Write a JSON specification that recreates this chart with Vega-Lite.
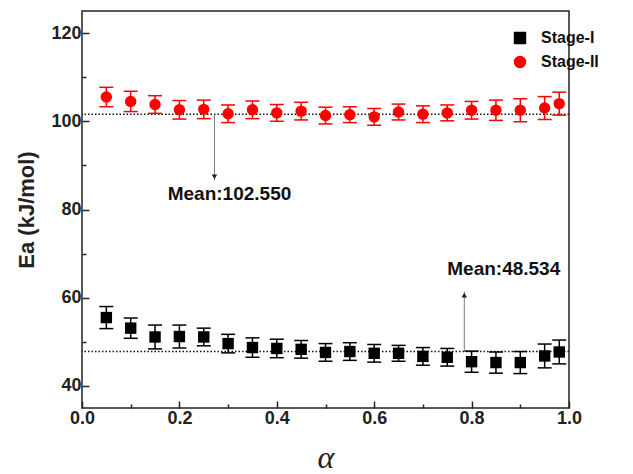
{
  "$schema": "https://vega.github.io/schema/vega-lite/v6.json",
  "autosize": {"type": "none"},
  "width": 487,
  "height": 397,
  "padding": {"left": 82, "top": 11, "right": 64, "bottom": 66},
  "background": "white",
  "config": {
    "view": {"stroke": "#222", "strokeWidth": 1.5},
    "font": "Liberation Sans"
  },
  "datasets": {
    "pts": [
      {"alpha": 0.05, "Ea": 55.5, "lo": 53.0, "hi": 58.0, "stage": "Stage-I"},
      {"alpha": 0.10, "Ea": 53.1, "lo": 50.8, "hi": 55.4, "stage": "Stage-I"},
      {"alpha": 0.15, "Ea": 51.1, "lo": 48.4, "hi": 53.8, "stage": "Stage-I"},
      {"alpha": 0.20, "Ea": 51.2, "lo": 48.6, "hi": 53.8, "stage": "Stage-I"},
      {"alpha": 0.25, "Ea": 51.1, "lo": 49.1, "hi": 53.1, "stage": "Stage-I"},
      {"alpha": 0.30, "Ea": 49.6, "lo": 47.5, "hi": 51.7, "stage": "Stage-I"},
      {"alpha": 0.35, "Ea": 48.7, "lo": 46.5, "hi": 50.9, "stage": "Stage-I"},
      {"alpha": 0.40, "Ea": 48.5, "lo": 46.4, "hi": 50.6, "stage": "Stage-I"},
      {"alpha": 0.45, "Ea": 48.3, "lo": 46.3, "hi": 50.3, "stage": "Stage-I"},
      {"alpha": 0.50, "Ea": 47.6, "lo": 45.6, "hi": 49.6, "stage": "Stage-I"},
      {"alpha": 0.55, "Ea": 47.8, "lo": 45.8, "hi": 49.8, "stage": "Stage-I"},
      {"alpha": 0.60, "Ea": 47.4, "lo": 45.4, "hi": 49.4, "stage": "Stage-I"},
      {"alpha": 0.65, "Ea": 47.4, "lo": 45.6, "hi": 49.2, "stage": "Stage-I"},
      {"alpha": 0.70, "Ea": 46.7, "lo": 44.7, "hi": 48.7, "stage": "Stage-I"},
      {"alpha": 0.75, "Ea": 46.5, "lo": 44.5, "hi": 48.5, "stage": "Stage-I"},
      {"alpha": 0.80, "Ea": 45.5, "lo": 43.1, "hi": 47.9, "stage": "Stage-I"},
      {"alpha": 0.85, "Ea": 45.3, "lo": 42.9, "hi": 47.7, "stage": "Stage-I"},
      {"alpha": 0.90, "Ea": 45.3, "lo": 42.8, "hi": 47.8, "stage": "Stage-I"},
      {"alpha": 0.95, "Ea": 46.8, "lo": 44.1, "hi": 49.5, "stage": "Stage-I"},
      {"alpha": 0.98, "Ea": 47.7, "lo": 45.0, "hi": 50.4, "stage": "Stage-I"},
      {"alpha": 0.05, "Ea": 105.5, "lo": 103.3, "hi": 107.7, "stage": "Stage-II"},
      {"alpha": 0.10, "Ea": 104.5, "lo": 102.2, "hi": 106.8, "stage": "Stage-II"},
      {"alpha": 0.15, "Ea": 103.8, "lo": 101.8, "hi": 105.8, "stage": "Stage-II"},
      {"alpha": 0.20, "Ea": 102.6, "lo": 100.5, "hi": 104.7, "stage": "Stage-II"},
      {"alpha": 0.25, "Ea": 102.7, "lo": 100.6, "hi": 104.8, "stage": "Stage-II"},
      {"alpha": 0.30, "Ea": 101.7, "lo": 99.7, "hi": 103.7, "stage": "Stage-II"},
      {"alpha": 0.35, "Ea": 102.6, "lo": 100.6, "hi": 104.6, "stage": "Stage-II"},
      {"alpha": 0.40, "Ea": 101.9, "lo": 100.0, "hi": 103.8, "stage": "Stage-II"},
      {"alpha": 0.45, "Ea": 102.3, "lo": 100.3, "hi": 104.3, "stage": "Stage-II"},
      {"alpha": 0.50, "Ea": 101.3, "lo": 99.4, "hi": 103.2, "stage": "Stage-II"},
      {"alpha": 0.55, "Ea": 101.5, "lo": 99.7, "hi": 103.3, "stage": "Stage-II"},
      {"alpha": 0.60, "Ea": 101.0, "lo": 99.1, "hi": 102.9, "stage": "Stage-II"},
      {"alpha": 0.65, "Ea": 102.1, "lo": 100.3, "hi": 103.9, "stage": "Stage-II"},
      {"alpha": 0.70, "Ea": 101.6, "lo": 99.7, "hi": 103.5, "stage": "Stage-II"},
      {"alpha": 0.75, "Ea": 101.9, "lo": 100.1, "hi": 103.7, "stage": "Stage-II"},
      {"alpha": 0.80, "Ea": 102.5, "lo": 100.5, "hi": 104.5, "stage": "Stage-II"},
      {"alpha": 0.85, "Ea": 102.5, "lo": 100.2, "hi": 104.8, "stage": "Stage-II"},
      {"alpha": 0.90, "Ea": 102.5, "lo": 99.9, "hi": 105.1, "stage": "Stage-II"},
      {"alpha": 0.95, "Ea": 103.0, "lo": 100.4, "hi": 105.6, "stage": "Stage-II"},
      {"alpha": 0.98, "Ea": 104.0, "lo": 101.4, "hi": 106.6, "stage": "Stage-II"}
    ],
    "means": [
      {"level": 101.6},
      {"level": 47.8}
    ],
    "arrows": [
      {"ax": 0.272, "from": 101.6, "to": 86.6, "tipY": 87.4, "dir": "down"},
      {"ax": 0.785, "from": 47.8, "to": 61.4, "tipY": 60.6, "dir": "up"}
    ],
    "notes": [
      {"nx": 0.176, "ny": 83.5, "label": "Mean:102.550"},
      {"nx": 0.750, "ny": 66.4, "label": "Mean:48.534"}
    ]
  },
  "layer": [
    {
      "data": {"name": "means"},
      "mark": {"type": "rule", "color": "#111", "strokeWidth": 1.5, "strokeDash": [1.5, 2]},
      "encoding": {
        "y": {"field": "level", "type": "quantitative", "scale": {"domain": [35, 125], "nice": false, "zero": false}}
      }
    },
    {
      "data": {"name": "arrows"},
      "mark": {"type": "rule", "color": "#777", "strokeWidth": 1},
      "encoding": {
        "x": {"field": "ax", "type": "quantitative", "scale": {"domain": [0, 1], "nice": false, "zero": false}},
        "y": {"field": "from", "type": "quantitative"},
        "y2": {"field": "to"}
      }
    },
    {
      "data": {"name": "arrows"},
      "transform": [{"filter": "datum.dir == 'down'"}],
      "mark": {"type": "point", "filled": true, "color": "#222", "size": 30, "opacity": 1, "shape": "triangle-down"},
      "encoding": {
        "x": {"field": "ax", "type": "quantitative"},
        "y": {"field": "tipY", "type": "quantitative"}
      }
    },
    {
      "data": {"name": "arrows"},
      "transform": [{"filter": "datum.dir == 'up'"}],
      "mark": {"type": "point", "filled": true, "color": "#222", "size": 30, "opacity": 1, "shape": "triangle-up"},
      "encoding": {
        "x": {"field": "ax", "type": "quantitative"},
        "y": {"field": "tipY", "type": "quantitative"}
      }
    },
    {
      "data": {"name": "notes"},
      "mark": {"type": "text", "align": "left", "baseline": "middle", "fontSize": 19, "fontWeight": "bold", "font": "Liberation Sans", "color": "#111"},
      "encoding": {
        "x": {"field": "nx", "type": "quantitative"},
        "y": {"field": "ny", "type": "quantitative"},
        "text": {"field": "label"}
      }
    },
    {
      "data": {"name": "pts"},
      "mark": {"type": "rule", "strokeWidth": 1.5},
      "encoding": {
        "x": {"field": "alpha", "type": "quantitative"},
        "y": {"field": "lo", "type": "quantitative"},
        "y2": {"field": "hi"},
        "color": {"field": "stage", "type": "nominal"}
      }
    },
    {
      "data": {"name": "pts"},
      "mark": {"type": "tick", "orient": "horizontal", "size": 14, "thickness": 1.5, "opacity": 1},
      "encoding": {
        "x": {"field": "alpha", "type": "quantitative"},
        "y": {"field": "lo", "type": "quantitative"},
        "color": {"field": "stage", "type": "nominal"}
      }
    },
    {
      "data": {"name": "pts"},
      "mark": {"type": "tick", "orient": "horizontal", "size": 14, "thickness": 1.5, "opacity": 1},
      "encoding": {
        "x": {"field": "alpha", "type": "quantitative"},
        "y": {"field": "hi", "type": "quantitative"},
        "color": {"field": "stage", "type": "nominal"}
      }
    },
    {
      "data": {"name": "pts"},
      "mark": {"type": "point", "filled": true, "opacity": 1, "size": 130},
      "encoding": {
        "x": {
          "field": "alpha", "type": "quantitative",
          "axis": {
            "values": [0, 0.1, 0.2, 0.3, 0.4, 0.5, 0.6, 0.7, 0.8, 0.9, 1.0],
            "labelExpr": "round(datum.value*10) % 2 == 0 ? format(datum.value, '.1f') : ''",
            "grid": false, "domain": false,
            "tickSize": {"condition": {"test": "round(datum.value*10) % 2 == 0", "value": -7}, "value": -4},
            "tickWidth": 1.5, "tickColor": "#222",
            "labelPadding": 8,
            "labelFont": "Liberation Sans", "labelFontWeight": "bold", "labelFontSize": 18, "labelColor": "#222",
            "labelFlush": false, "labelOverlap": false,
            "title": "α", "titleFont": "Liberation Serif", "titleFontStyle": "italic", "titleFontWeight": "normal",
            "titleFontSize": 32, "titleColor": "#222", "titlePadding": 12
          }
        },
        "y": {
          "field": "Ea", "type": "quantitative",
          "axis": {
            "values": [40, 50, 60, 70, 80, 90, 100, 110, 120],
            "labelExpr": "datum.value % 20 == 0 ? datum.label : ''",
            "grid": false, "domain": false,
            "tickSize": {"condition": {"test": "datum.value % 20 == 0", "value": -7}, "value": -4},
            "tickWidth": 1.5, "tickColor": "#222",
            "labelPadding": 8,
            "labelFont": "Liberation Sans", "labelFontWeight": "bold", "labelFontSize": 18, "labelColor": "#222",
            "labelFlush": false, "labelOverlap": false,
            "title": "Ea (kJ/mol)", "titleFont": "Liberation Sans", "titleFontWeight": "bold",
            "titleFontSize": 22, "titleColor": "#222", "titlePadding": 12
          }
        },
        "color": {
          "field": "stage", "type": "nominal",
          "scale": {"domain": ["Stage-I", "Stage-II"], "range": ["#000000", "#ff0000"]},
          "legend": {
            "title": null, "orient": "none", "legendX": 430, "legendY": 19,
            "labelFont": "Liberation Sans", "labelFontWeight": "bold", "labelFontSize": 16, "labelColor": "#111",
            "symbolSize": 120, "rowPadding": 6, "labelOffset": 13
          }
        },
        "shape": {
          "field": "stage", "type": "nominal",
          "scale": {"domain": ["Stage-I", "Stage-II"], "range": ["square", "circle"]},
          "legend": {
            "title": null, "orient": "none", "legendX": 430, "legendY": 19,
            "labelFont": "Liberation Sans", "labelFontWeight": "bold", "labelFontSize": 16, "labelColor": "#111",
            "symbolSize": 120, "rowPadding": 6, "labelOffset": 13
          }
        }
      }
    }
  ]
}
